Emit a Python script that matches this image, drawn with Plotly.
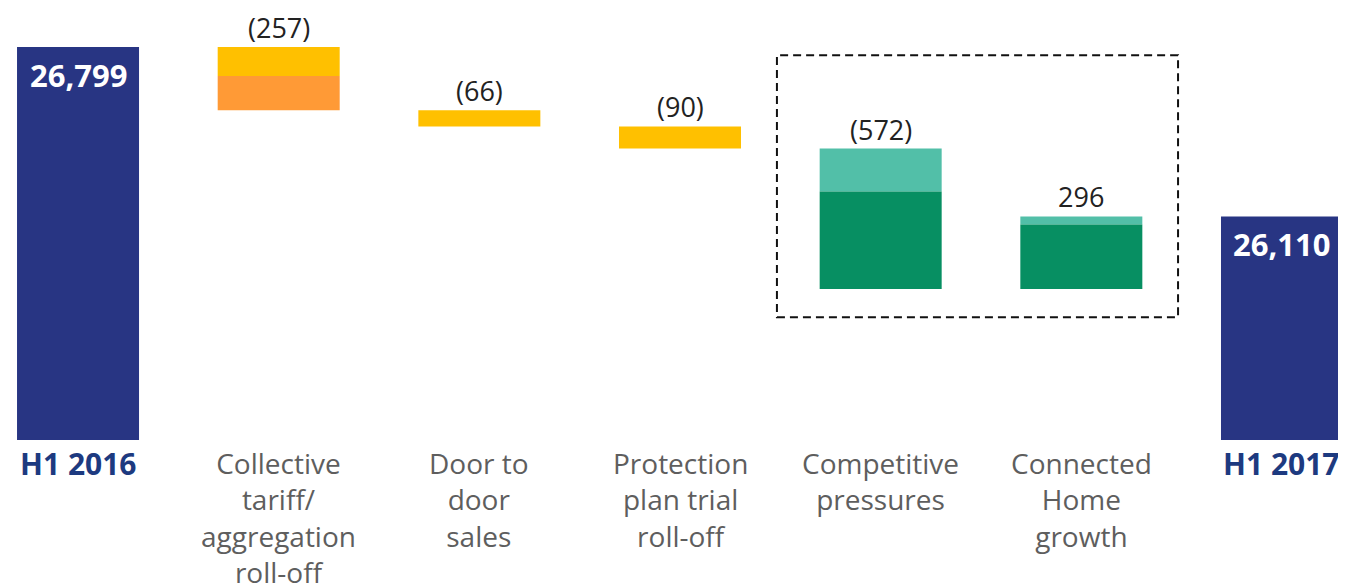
import plotly.graph_objects as go

# ---- data ----
categories = ["H1 2016", "Collective<br>tariff/<br>aggregation<br>roll-off", "Door to<br>door<br>sales",
              "Protection<br>plan trial<br>roll-off", "Competitive<br>pressures", "Connected<br>Home<br>growth", "H1 2017"]
start_total = 26799
end_total = 26110
step_values = [-257, -66, -90, -572, 296]
# sub-components of each step (top segment first)
step_parts = [[118, 139], [66], [90], [175, 397], [33, 263]]
step_colors = [["#FFC000", "#FF9A36"], ["#FFC000"], ["#FFC000"], ["#52BFA8", "#078F62"], ["#52BFA8", "#078F62"]]
step_labels = ["(257)", "(66)", "(90)", "(572)", "296"]
total_labels = ["26,799", "26,110"]

AXIS_MIN = 25200
AXIS_MAX = 26958
NAVY = "#283583"
FONT = "Open Sans"

fig = go.Figure()

# totals
fig.add_trace(go.Bar(x=[0, 6], y=[start_total, end_total], width=0.608,
                     marker=dict(color=NAVY, line=dict(width=0)), showlegend=False, hoverinfo="skip"))

running = start_total
annotations = []
for i, (v, parts, cols, lab) in enumerate(zip(step_values, step_parts, step_colors, step_labels)):
    xi = i + 1
    top = running if v < 0 else running + v
    cur = top
    for p, c in zip(parts, cols):
        fig.add_trace(go.Bar(x=[xi], y=[p], base=[cur - p], width=0.608,
                             marker=dict(color=c, line=dict(width=0)), showlegend=False, hoverinfo="skip"))
        cur -= p
    annotations.append(dict(x=xi, y=top, xref="x", yref="y", text=lab, showarrow=False,
                            yanchor="bottom", yshift=0, borderpad=0,
                            font=dict(family=FONT, size=27, color="#222222")))
    running += v

for xi, val, lab in [(0, start_total, total_labels[0]), (6, end_total, total_labels[1])]:
    annotations.append(dict(x=xi, y=val, xref="x", yref="y", text="<b>" + lab + "</b>", showarrow=False,
                            yanchor="top", yshift=-5, font=dict(family=FONT, size=31, color="white")))

for i, cat in enumerate(categories):
    bold = i in (0, 6)
    annotations.append(dict(x=i, y=0, xref="x", yref="paper",
                            text=("<b>" + cat + "</b>") if bold else cat,
                            showarrow=False, yanchor="top", yshift=-2 if not bold else -1, align="center",
                            font=dict(family=FONT, size=30 if bold else 28,
                                      color="#1D3A80" if bold else "#5E5E5E")))

fig.add_shape(type="rect", xref="x", yref="y", x0=3.483, x1=5.482, y0=25700, y1=26766,
              line=dict(color="#111111", width=2, dash="8px,5px"), fillcolor="rgba(0,0,0,0)")

fig.update_layout(
    width=1338, height=576,
    margin=dict(l=0, r=0, t=0, b=144),
    paper_bgcolor="white", plot_bgcolor="white",
    barmode="overlay",
    xaxis=dict(range=[-0.349, 6.319], showticklabels=False, showgrid=False, zeroline=False, showline=False),
    yaxis=dict(range=[AXIS_MIN, AXIS_MAX], showticklabels=False, showgrid=False, zeroline=False, showline=False),
    annotations=annotations,
    font=dict(family=FONT),
)

fig.write_html("out.html")
